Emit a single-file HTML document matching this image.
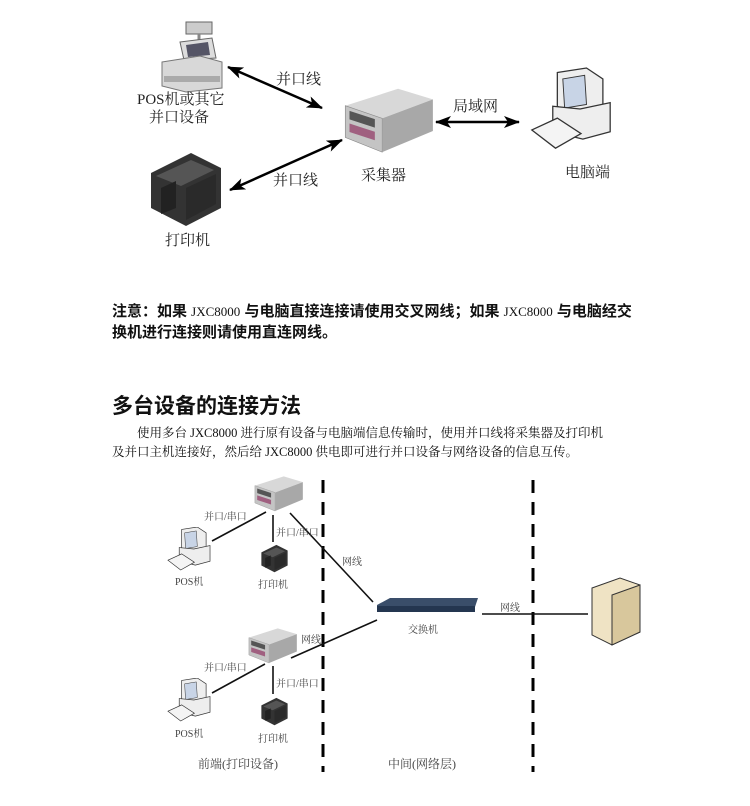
<!DOCTYPE html>
<html><head><meta charset="utf-8"><style>
body{margin:0;width:750px;height:806px;background:#fff;overflow:hidden;position:relative;font-family:"Liberation Serif","Noto Serif CJK SC",serif;color:#222}
.t{position:absolute;white-space:nowrap}
.b{font-family:"Liberation Sans","Noto Sans CJK SC",sans-serif;font-weight:bold;color:#111}
svg{position:absolute;left:0;top:0}
</style></head><body>
<svg width="750" height="806" viewBox="0 0 750 806">
<defs>
<marker id="ah" markerWidth="16" markerHeight="12" refX="15" refY="6" orient="auto-start-reverse" markerUnits="userSpaceOnUse">
<path d="M0,0 L16,6 L0,12 L4,6 z" fill="#000"/></marker>
<symbol id="box" viewBox="0 0 90 65">
<polygon points="5,18 55,2 88,12 40,30" fill="#d8d8d8"/>
<polygon points="5,18 40,30 40,62 5,48" fill="#c4c4c4" stroke="#888" stroke-width="0.6"/>
<polygon points="40,30 88,12 88,42 40,62" fill="#a8a8a8"/>
<rect x="9" y="26" width="24" height="8" fill="#555" transform="skewY(18) translate(0,-6)"/>
<rect x="9" y="38" width="24" height="8" fill="#a06080" transform="skewY(18) translate(0,-6)"/>
</symbol>
<symbol id="pc" viewBox="0 0 90 90">
<polygon points="30,5 62,0 80,12 80,48 48,52 30,42" fill="#eee" stroke="#333" stroke-width="1.4"/>
<polygon points="36,12 60,8 62,40 38,44" fill="#c8d4e6" stroke="#333"/>
<polygon points="25,42 55,45 88,38 88,70 58,78 25,70" fill="#eee" stroke="#333" stroke-width="1.4"/>
<polygon points="2,68 30,55 56,72 28,88" fill="#f4f4f4" stroke="#333" stroke-width="1.4"/>
</symbol>
<symbol id="prn" viewBox="0 0 80 80">
<polygon points="5,25 45,5 75,20 75,60 40,78 5,60" fill="#333"/>
<polygon points="10,28 45,12 68,22 35,38" fill="#555"/>
<polygon points="15,40 30,33 30,60 15,66" fill="#222"/>
<polygon points="40,40 70,26 70,56 40,72" fill="#2a2a2a"/>
</symbol>
</defs>
<!-- top diagram: POS -->
<rect x="186" y="22" width="26" height="12" fill="#ccc" stroke="#666"/>
<line x1="199" y1="34" x2="199" y2="42" stroke="#888" stroke-width="3"/>
<polygon points="180,42 212,38 216,58 184,60" fill="#ddd" stroke="#666"/>
<polygon points="186,45 208,42 210,55 188,57" fill="#556"/>
<polygon points="162,62 200,56 222,62 222,88 186,92 162,86" fill="#d8d8d8" stroke="#777"/>
<rect x="164" y="76" width="56" height="6" fill="#aaa"/>
<use href="#prn" x="145" y="148" width="82" height="80"/>
<use href="#box" x="340" y="85" width="95" height="72"/>
<use href="#pc" x="530" y="65" width="82" height="88"/>
<g stroke="#000" stroke-width="2.5" fill="none">
<line x1="228" y1="67" x2="322" y2="108" marker-start="url(#ah)" marker-end="url(#ah)"/>
<line x1="230" y1="190" x2="342" y2="140" marker-start="url(#ah)" marker-end="url(#ah)"/>
<line x1="436" y1="122" x2="519" y2="122" marker-start="url(#ah)" marker-end="url(#ah)"/>
</g>
<!-- bottom diagram -->
<g stroke="#000" stroke-width="3" stroke-dasharray="13,9">
<line x1="323" y1="480" x2="323" y2="772"/>
<line x1="533" y1="480" x2="533" y2="772"/>
</g>
<g stroke="#111" stroke-width="1.6">
<line x1="266" y1="512" x2="212" y2="541"/>
<line x1="273" y1="515" x2="273" y2="542"/>
<line x1="290" y1="513" x2="373" y2="602"/>
<line x1="291" y1="658" x2="377" y2="620"/>
<line x1="265" y1="664" x2="212" y2="693"/>
<line x1="273" y1="666" x2="273" y2="694"/>
<line x1="482" y1="614" x2="588" y2="614"/>
</g>
<use href="#box" x="252" y="474" width="52" height="40"/>
<use href="#box" x="246" y="626" width="52" height="40"/>
<use href="#pc" x="165" y="527" width="48" height="44"/>
<use href="#pc" x="165" y="678" width="48" height="44"/>
<use href="#prn" x="258" y="543" width="33" height="30"/>
<use href="#prn" x="258" y="696" width="33" height="30"/>
<polygon points="377,605 390,598 478,598 475,607 377,612" fill="#3a4e6a"/>
<rect x="377" y="606" width="98" height="6" fill="#243650"/>
<polygon points="592,588 620,578 640,585 640,632 612,645 592,635" fill="#efe3c4" stroke="#333"/>
<polygon points="612,595 640,585 640,632 612,645" fill="#d8c79c" stroke="#333"/>
</svg>
<div class="t" style="left:137px;top:91px;font-size:15px;line-height:18px;text-align:center;width:84px">POS机或其它<br>并口设备</div>
<div class="t" style="left:165px;top:229px;font-size:15px">打印机</div>
<div class="t" style="left:276px;top:68px;font-size:15px">并口线</div>
<div class="t" style="left:273px;top:169px;font-size:15px">并口线</div>
<div class="t" style="left:361px;top:164px;font-size:15px">采集器</div>
<div class="t" style="left:453px;top:95px;font-size:15px">局域网</div>
<div class="t" style="left:565px;top:161px;font-size:15px">电脑端</div>
<div class="t b" style="left:112px;top:301px;font-size:15px;line-height:21px">注意：如果 <span style="font-weight:normal;font-family:'Liberation Serif';font-size:13px">JXC8000</span> 与电脑直接连接请使用交叉网线；如果 <span style="font-weight:normal;font-family:'Liberation Serif';font-size:13px">JXC8000</span> 与电脑经交<br>换机进行连接则请使用直连网线。</div>
<div class="t b" style="left:112px;top:390px;font-size:21px">多台设备的连接方法</div>
<div class="t" style="left:112px;top:424px;font-size:12.5px;line-height:19px;color:#111">　　使用多台 JXC8000 进行原有设备与电脑端信息传输时，使用并口线将采集器及打印机<br>及并口主机连接好，然后给 JXC8000 供电即可进行并口设备与网络设备的信息互传。</div>
<div class="t" style="left:204px;top:508px;font-size:10px;color:#444">并口/串口</div>
<div class="t" style="left:276px;top:524px;font-size:10px;color:#444">并口/串口</div>
<div class="t" style="left:204px;top:659px;font-size:10px;color:#444">并口/串口</div>
<div class="t" style="left:276px;top:675px;font-size:10px;color:#444">并口/串口</div>
<div class="t" style="left:175px;top:573px;font-size:10px;color:#444">POS机</div>
<div class="t" style="left:175px;top:725px;font-size:10px;color:#444">POS机</div>
<div class="t" style="left:258px;top:576px;font-size:10px;color:#444">打印机</div>
<div class="t" style="left:258px;top:730px;font-size:10px;color:#444">打印机</div>
<div class="t" style="left:342px;top:553px;font-size:10px;color:#444">网线</div>
<div class="t" style="left:301px;top:631px;font-size:10px;color:#444">网线</div>
<div class="t" style="left:500px;top:599px;font-size:10px;color:#444">网线</div>
<div class="t" style="left:408px;top:621px;font-size:10px;color:#444">交换机</div>
<div class="t" style="left:198px;top:755px;font-size:12px;color:#444">前端(打印设备)</div>
<div class="t" style="left:388px;top:755px;font-size:12px;color:#444">中间(网络层)</div>
</body></html>
